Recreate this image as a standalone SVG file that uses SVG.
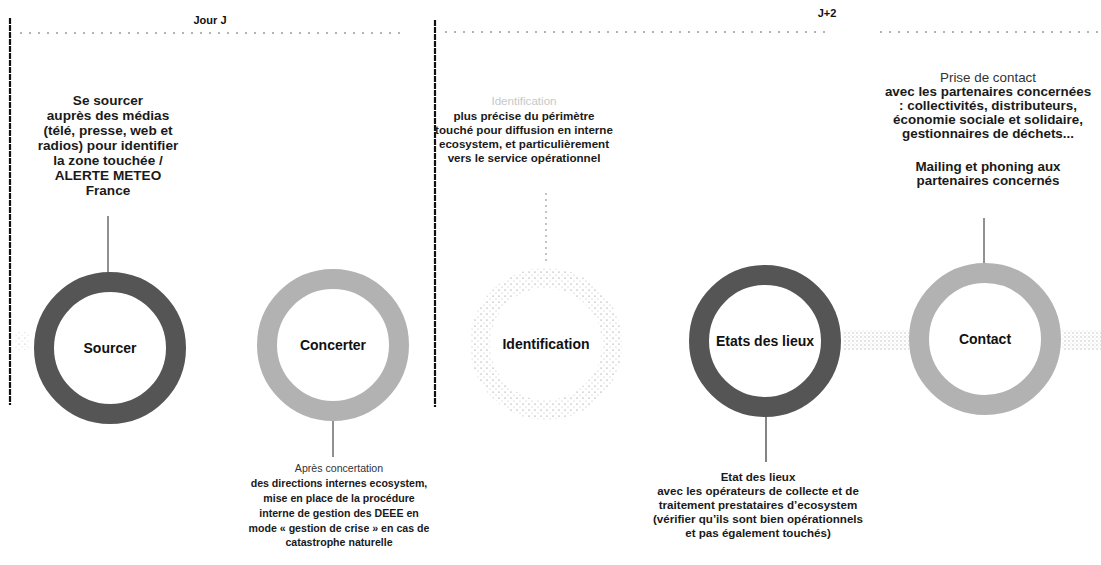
<svg xmlns="http://www.w3.org/2000/svg" width="1101" height="565" viewBox="0 0 1101 565">
<defs>
<pattern id="stipple" width="4" height="4" patternUnits="userSpaceOnUse">
<rect width="4" height="4" fill="#ffffff"/>
<circle cx="1" cy="1" r="0.7" fill="#9a9a9a"/>
<circle cx="3" cy="3" r="0.5" fill="#c0c0c0"/>
</pattern>
<pattern id="sparse" width="6" height="6" patternUnits="userSpaceOnUse">
<rect width="6" height="6" fill="none"/>
<circle cx="1" cy="2" r="0.6" fill="#777"/>
<circle cx="4" cy="5" r="0.5" fill="#aaa"/>
</pattern>
<style>
.t{font-family:"Liberation Sans",Arial,sans-serif;font-size:12px;font-weight:bold;fill:#1a1a1a;text-anchor:middle}
.s{font-size:13.6px}
.c{font-size:13.4px}
.m{font-size:11.6px}
.b{font-size:10.6px}
.th{font-weight:normal;fill:#333}
.tf{font-weight:normal;fill:#c8c8c8}
.lbl{font-family:"Liberation Sans",Arial,sans-serif;font-size:14px;font-weight:bold;fill:#111;text-anchor:middle}
.hd{font-family:"Liberation Sans",Arial,sans-serif;font-size:11px;font-weight:bold;fill:#111;text-anchor:middle}
.dark{fill:#fff;stroke:#555;stroke-width:20}
.light{fill:#fff;stroke:#b2b2b2;stroke-width:20}
.dot{fill:#fff;stroke:url(#sparse);stroke-width:20}
.edge{fill:none;stroke:#222;stroke-width:1}
.edgeDark{fill:none;stroke:#333;stroke-width:1.2}
.vsep{stroke:#111;stroke-width:2.2;stroke-dasharray:6 1}
.hline{stroke:#666;stroke-width:1;stroke-dasharray:2 7}
</style>
</defs>
<rect width="1101" height="565" fill="#ffffff"/>

<g id="header">
<line class="vsep" x1="10" y1="18" x2="10" y2="405"/>
<line class="vsep" x1="435" y1="20" x2="435" y2="407"/>
<line class="hline" x1="20" y1="33" x2="400" y2="33"/>
<line class="hline" x1="445" y1="32" x2="830" y2="32"/>
<line class="hline" x1="880" y1="32" x2="1100" y2="32"/>
<text class="hd" x="210" y="24">Jour J</text>
<text class="hd" x="827" y="17">J+2</text>
</g>

<g id="connectors">
<rect x="14" y="332" width="16" height="18" fill="url(#sparse)" opacity="0.6"/>
<rect x="843" y="330" width="66" height="20" fill="url(#stipple)" opacity="0.7"/>
<rect x="1062" y="330" width="39" height="20" fill="url(#stipple)" opacity="0.7"/>
<line class="edge" x1="108" y1="216" x2="108" y2="273"/>
<line class="edge" x1="333" y1="418" x2="333" y2="457"/>
<line x1="546" y1="193" x2="546" y2="265" stroke="#888" stroke-width="1" stroke-dasharray="2 4"/>
<line class="edgeDark" x1="766" y1="416" x2="766" y2="462"/>
<line class="edge" x1="984" y1="218" x2="984" y2="264"/>
</g>

<g id="node-sourcer">
<circle class="dark" cx="110" cy="348" r="66"/>
<text class="lbl" x="110" y="353">Sourcer</text>
<text class="t s" x="108" y="105">Se sourcer</text>
<text class="t s" x="108" y="120">auprès des médias</text>
<text class="t s" x="108" y="135">(télé, presse, web et</text>
<text class="t s" x="108" y="150">radios) pour identifier</text>
<text class="t s" x="108" y="165">la zone touchée /</text>
<text class="t s" x="108" y="180">ALERTE METEO</text>
<text class="t s" x="108" y="195">France</text>
</g>

<g id="node-concerter">
<circle class="light" cx="333" cy="345" r="66"/>
<text class="lbl" x="333" y="350">Concerter</text>
<text class="t b th" x="339" y="472">Après concertation</text>
<text class="t b" x="339" y="487">des directions internes ecosystem,</text>
<text class="t b" x="339" y="502">mise en place de la procédure</text>
<text class="t b" x="339" y="517">interne de gestion des DEEE en</text>
<text class="t b" x="339" y="532">mode « gestion de crise » en cas de</text>
<text class="t b" x="339" y="546">catastrophe naturelle</text>
</g>

<g id="node-identification">
<circle class="dot" cx="546" cy="344" r="66"/>
<text class="lbl" x="546" y="349">Identification</text>
<text class="t m tf" x="524" y="105">Identification</text>
<text class="t m" x="524" y="120">plus précise du périmètre</text>
<text class="t m" x="524" y="134">touché pour diffusion en interne</text>
<text class="t m" x="524" y="148">ecosystem, et particulièrement</text>
<text class="t m" x="524" y="162">vers le service opérationnel</text>
</g>

<g id="node-etats">
<circle class="dark" cx="765" cy="341" r="66"/>
<text class="lbl" x="765" y="346">Etats des lieux</text>
<text class="t m" x="758" y="481">Etat des lieux</text>
<text class="t m" x="758" y="495">avec les opérateurs de collecte et de</text>
<text class="t m" x="758" y="509">traitement prestataires d’ecosystem</text>
<text class="t m" x="758" y="523">(vérifier qu’ils sont bien opérationnels</text>
<text class="t m" x="758" y="537">et pas également touchés)</text>
</g>

<g id="node-contact">
<circle class="light" cx="985" cy="339" r="66"/>
<text class="lbl" x="985" y="344">Contact</text>
<text class="t c th" x="988" y="82">Prise de contact</text>
<text class="t c" x="988" y="96">avec les partenaires concernées</text>
<text class="t c" x="988" y="110">: collectivités, distributeurs,</text>
<text class="t c" x="988" y="124">économie sociale et solidaire,</text>
<text class="t c" x="988" y="138">gestionnaires de déchets...</text>
<text class="t c" x="988" y="171">Mailing et phoning aux</text>
<text class="t c" x="988" y="185">partenaires concernés</text>
</g>
</svg>
